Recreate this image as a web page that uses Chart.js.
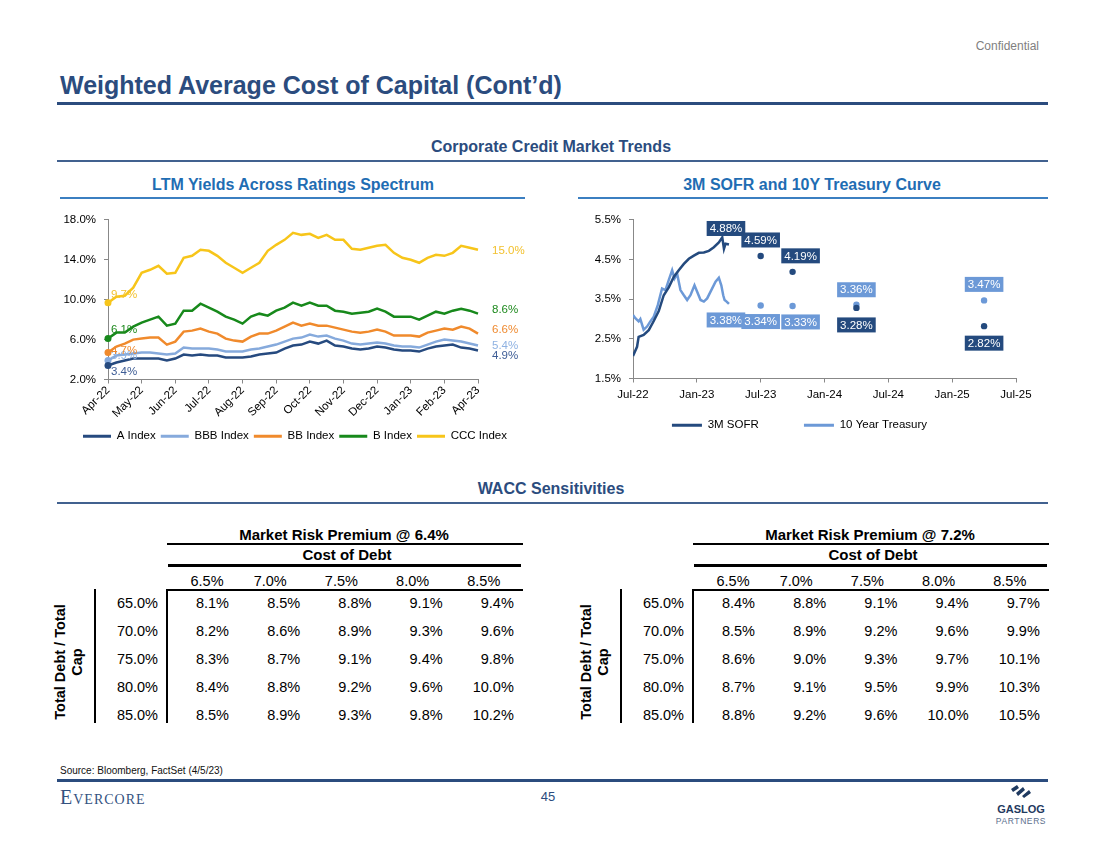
<!DOCTYPE html>
<html>
<head>
<meta charset="utf-8">
<script src="https://cdn.jsdelivr.net/npm/chart.js@4.4.0/dist/chart.umd.min.js"></script>
<style>
  body { margin:0; width:1100px; height:849px; position:relative; background:#fff; overflow:hidden;
         font-family:"Liberation Sans", Arial, sans-serif; }
  .t { position:absolute; white-space:nowrap; }
  .rule { position:absolute; }
  canvas { position:absolute; }
</style>
</head>
<body>
<canvas id="ltm" width="490" height="247" style="left:50px;top:205px"></canvas>
<canvas id="curve" width="475" height="236" style="left:575px;top:205px"></canvas>
<script>
// ---- LTM yields (left chart) ----
var ltmMonths = ['Apr-22','May-22','Jun-22','Jul-22','Aug-22','Sep-22','Oct-22','Nov-22','Dec-22','Jan-23','Feb-23','Apr-23'];
var ltmNames = ['A Index','BBB Index','BB Index','B Index','CCC Index'];
var ltmA   = [3.4,3.7,3.9,4.1,4.1,4.1,4.1,3.9,4.1,4.5,4.4,4.5,4.4,4.4,4.2,4.2,4.2,4.3,4.5,4.6,4.7,5.1,5.4,5.5,5.8,5.6,5.9,5.4,5.3,5.1,5.0,5.1,5.3,5.2,5.0,4.9,4.9,4.8,5.1,5.3,5.4,5.5,5.2,5.1,4.9];
var ltmBBB = [3.9,4.4,4.5,4.6,4.7,4.7,4.6,4.5,4.6,5.2,5.1,5.1,5.1,5.0,4.8,4.8,4.8,5.0,5.1,5.3,5.5,5.8,6.1,6.2,6.5,6.3,6.4,6.1,5.9,5.6,5.5,5.6,5.7,5.6,5.4,5.3,5.3,5.2,5.5,5.8,6.0,5.9,5.8,5.6,5.4];
var ltmBB  = [4.7,5.3,5.6,6.0,6.1,6.2,6.2,5.5,5.8,6.8,6.9,7.1,6.8,6.6,6.1,5.9,5.8,6.3,6.6,6.6,6.9,7.3,7.7,7.4,7.6,7.4,7.4,7.2,7.0,6.8,6.7,6.8,7.0,6.8,6.4,6.4,6.4,6.3,6.7,6.9,7.1,7.0,7.3,7.1,6.6];
var ltmB   = [6.1,6.7,6.7,7.3,7.7,8.0,8.3,7.4,7.6,8.9,8.9,9.6,9.2,8.8,8.3,8.0,7.6,8.3,8.6,8.4,8.9,9.2,9.7,9.4,9.7,9.4,9.4,8.9,8.8,8.6,8.7,8.8,9.1,8.8,8.3,8.3,8.3,8.0,8.4,8.8,8.6,8.9,9.1,8.9,8.6];
var ltmCCC = [9.7,10.3,10.4,11.2,12.7,13.0,13.4,12.6,12.7,14.2,14.4,15.0,14.9,14.4,13.7,13.2,12.7,13.2,13.7,14.9,15.5,16.0,16.7,16.5,16.6,16.2,16.5,16.0,16.0,15.1,15.0,15.2,15.4,15.5,14.7,14.2,14.0,13.7,14.2,14.5,14.4,14.7,15.4,15.2,15.0];
var ltmYTicks = [2, 18, 4]; // min, max, step

// ---- 3M SOFR and 10Y Treasury (right chart), x = months after Jul-22 ----
var curveTickLabels = ['Jul-22','Jan-23','Jul-23','Jan-24','Jul-24','Jan-25','Jul-25'];
var sofrMonths  = [0,0.38,0.53,1.0,1.48,1.95,2.42,2.89,3.36,3.83,4.30,4.78,5.25,5.72,6.19,6.66,7.13,7.60,8.07,8.39,8.55,8.70,9.02];
var sofrValues  = [2.07,2.30,2.55,2.60,2.72,2.95,3.20,3.60,3.80,4.06,4.23,4.39,4.52,4.60,4.67,4.68,4.72,4.81,4.93,5.06,4.77,4.90,4.88];
var treasMonths = [0,0.22,0.53,0.69,1.0,1.32,1.63,1.95,2.33,2.73,3.05,3.36,3.68,3.90,4.15,4.46,4.78,5.09,5.40,5.78,6.03,6.35,6.66,6.97,7.29,7.76,8.07,8.30,8.48,8.61,8.80,9.02];
var treasValues = [3.10,3.02,2.94,3.00,2.73,2.81,2.94,3.06,3.35,3.77,3.73,3.98,4.23,4.02,4.14,3.73,3.60,3.48,3.60,3.85,3.69,3.48,3.44,3.52,3.69,3.94,4.04,3.85,3.60,3.48,3.44,3.38];
var fwdMonths   = [12,15,21,33];
var sofrFwd     = [4.59,4.19,3.28,2.82];
var treasFwd    = [3.34,3.33,3.36,3.47];

// ---- WACC sensitivity tables ----
var costOfDebt = [6.5,7.0,7.5,8.0,8.5];
var debtToCap  = [65.0,70.0,75.0,80.0,85.0];
var wacc64 = [[8.1,8.5,8.8,9.1,9.4],[8.2,8.6,8.9,9.3,9.6],[8.3,8.7,9.1,9.4,9.8],[8.4,8.8,9.2,9.6,10.0],[8.5,8.9,9.3,9.8,10.2]];
var wacc72 = [[8.4,8.8,9.1,9.4,9.7],[8.5,8.9,9.2,9.6,9.9],[8.6,9.0,9.3,9.7,10.1],[8.7,9.1,9.5,9.9,10.3],[8.8,9.2,9.6,10.0,10.5]];

var FONT = '"Liberation Sans", Arial, sans-serif';
var NAVY = '#2b4c7e';

// simple text helper, y is the visual centre
function txt(x, y, s, css, align) {
  var d = document.createElement('div');
  d.className = 't';
  d.textContent = s;
  var st = 'top:' + (y - 20) + 'px;height:40px;line-height:40px;';
  align = align || 'left';
  if (align === 'center') st += 'left:' + (x - 300) + 'px;width:600px;text-align:center;';
  else if (align === 'right') st += 'left:' + (x - 600) + 'px;width:600px;text-align:right;';
  else st += 'left:' + x + 'px;';
  d.setAttribute('style', st + (css || ''));
  document.body.appendChild(d);
  return d;
}
function rule(x1, x2, y, h, color) {
  var d = document.createElement('div');
  d.className = 'rule';
  d.setAttribute('style', 'left:' + x1 + 'px;width:' + (x2 - x1) + 'px;top:' + (y - h / 2) + 'px;height:' + h + 'px;background:' + color);
  document.body.appendChild(d);
}
function vrule(x, y1, y2, w, color) {
  var d = document.createElement('div');
  d.className = 'rule';
  d.setAttribute('style', 'left:' + (x - w / 2) + 'px;width:' + w + 'px;top:' + y1 + 'px;height:' + (y2 - y1) + 'px;background:' + color);
  document.body.appendChild(d);
}

// ---- page furniture ----
txt(1039, 46, 'Confidential', 'font-size:12px;color:#7f7f7f;', 'right');
txt(60, 85, 'Weighted Average Cost of Capital (Cont\u2019d)', 'font-size:25px;font-weight:bold;color:' + NAVY + ';');
rule(57, 1048, 103.5, 3, NAVY);
txt(551, 147, 'Corporate Credit Market Trends', 'font-size:16px;font-weight:bold;color:' + NAVY + ';', 'center');
rule(57, 1048, 161, 1.5, '#41618f');
txt(293, 185, 'LTM Yields Across Ratings Spectrum', 'font-size:16px;font-weight:bold;color:#1f6db3;', 'center');
rule(60, 525, 198, 1.5, '#3b7fc1');
txt(812, 185, '3M SOFR and 10Y Treasury Curve', 'font-size:16px;font-weight:bold;color:#1f6db3;', 'center');
rule(578, 1048, 198, 1.5, '#3b7fc1');
txt(551, 489, 'WACC Sensitivities', 'font-size:16px;font-weight:bold;color:' + NAVY + ';', 'center');
rule(57, 1048, 503, 1.5, '#41618f');
txt(60, 771, 'Source: Bloomberg, FactSet (4/5/23)', 'font-size:10px;color:#111;');
rule(57, 1048, 780, 3, NAVY);
txt(60, 797, 'Evercore', 'font-family:"Liberation Serif",serif;font-variant:small-caps;font-size:20px;letter-spacing:1px;color:#34527f;');
txt(548, 797, '45', 'font-size:13px;color:' + NAVY + ';', 'center');
txt(1021, 809, 'GASLOG', 'font-size:11px;font-weight:bold;color:#1f3a60;', 'center');
txt(1021, 821, 'PARTNERS', 'font-size:8.5px;letter-spacing:0.6px;color:#5a6e8c;', 'center');
(function () {
  var s = document.createElementNS('http://www.w3.org/2000/svg', 'svg');
  s.setAttribute('width', '24'); s.setAttribute('height', '16');
  s.style.position = 'absolute'; s.style.left = '1009px'; s.style.top = '783px';
  s.innerHTML = '<path d="M2 6 L8 2 L10 5 L4 9 Z M7 10 L14 4 L16 7 L9 13 Z M13 13 L20 7 L22 10 L15 15 Z" fill="#1f3a60"/>';
  document.body.appendChild(s);
})();

// ---- tables ----
function buildTable(base, title, grid) {
  txt(344 + base, 535, title, 'font-size:15px;font-weight:bold;color:#000;', 'center');
  rule(167 + base, 523 + base, 544, 2, '#000');
  txt(347 + base, 555, 'Cost of Debt', 'font-size:15px;font-weight:bold;color:#000;', 'center');
  rule(168 + base, 521 + base, 565, 3, '#000');
  costOfDebt.forEach(function (c, j) {
    txt(229 + 71.2 * j - 30 + (j === 0 ? 8 : 0) + base, 581, c.toFixed(1) + '%', 'font-size:14.5px;color:#000;', 'center');
  });
  rule(167 + base, 523 + base, 590, 2, '#000');
  vrule(167 + base, 589, 723, 2, '#000');
  vrule(95 + base, 589, 723, 2, '#000');
  debtToCap.forEach(function (r, i) {
    var y = 603 + 28 * i;
    txt(158 + base, y, r.toFixed(1) + '%', 'font-size:14.5px;color:#000;', 'right');
    grid[i].forEach(function (v, j) {
      txt(229 + 71.2 * j + base, y, v.toFixed(1) + '%', 'font-size:14.5px;color:#000;', 'right');
    });
  });
  var lab = document.createElement('div');
  lab.className = 't';
  lab.innerHTML = 'Total Debt / Total<br>Cap';
  lab.setAttribute('style', 'width:140px;left:' + base + 'px;top:644px;height:36px;line-height:17px;text-align:center;' +
    'font-size:14.5px;font-weight:bold;color:#000;transform:rotate(-90deg);');
  document.body.appendChild(lab);
}
buildTable(0, 'Market Risk Premium @ 6.4%', wacc64);
buildTable(526, 'Market Risk Premium @ 7.2%', wacc72);

// ---- charts ----
Chart.defaults.font.family = FONT;
Chart.defaults.color = '#000';

function lineLegendItems(chart) {
  return Chart.defaults.plugins.legend.labels.generateLabels(chart).map(function (it) {
    var ds = chart.data.datasets[it.datasetIndex];
    it.lineWidth = 3;
    it.strokeStyle = ds.borderColor;
    it.fillStyle = ds.borderColor;
    return it;
  });
}

var ltmColors = ['#264a7f', '#86aadc', '#f08a2c', '#17891b', '#f7c51a'];
var ltmLabelColors = ['#3d5c95', '#8fb2e2', '#ef8a30', '#1e8a1e', '#f2c12e'];
var ltmStartDy = [6, -5, -2, -9, -8];
var ltmEndDy = [5, 0, -4, -4, 1];

var ltmCategories = [];
for (var i = 0; i < ltmA.length; i++) ltmCategories.push(i % 4 === 0 ? ltmMonths[i / 4] : '');

var ltmLabelsPlugin = {
  id: 'ltmLabels',
  afterDatasetsDraw: function (chart) {
    var ctx = chart.ctx;
    chart.data.datasets.forEach(function (ds, di) {
      var pts = chart.getDatasetMeta(di).data;
      var first = pts[0], last = pts[pts.length - 1];
      ctx.save();
      ctx.font = '11.5px ' + FONT;
      ctx.fillStyle = ltmLabelColors[di];
      ctx.textBaseline = 'middle';
      ctx.textAlign = 'left';
      ctx.fillText(ds.data[0].toFixed(1) + '%', first.x + 3, first.y + ltmStartDy[di]);
      ctx.fillText(ds.data[ds.data.length - 1].toFixed(1) + '%', last.x + 14, last.y + ltmEndDy[di]);
      ctx.restore();
    });
  }
};

new Chart(document.getElementById('ltm'), {
  type: 'line',
  data: {
    labels: ltmCategories,
    datasets: [ltmA, ltmBBB, ltmBB, ltmB, ltmCCC].map(function (d, k) {
      return {
        label: ltmNames[k], data: d, borderColor: ltmColors[k], backgroundColor: ltmColors[k],
        borderWidth: 2.5, fill: false, tension: 0,
        pointRadius: function (c) { return c.dataIndex === 0 ? 3.5 : 0; },
        pointBorderWidth: 0, pointStyle: 'circle'
      };
    })
  },
  options: {
    responsive: false, animation: false,
    layout: { padding: { top: 12, right: 0, left: 0, bottom: 0 } },
    scales: {
      x: {
        grid: { display: true, drawOnChartArea: false, tickLength: 4, color: '#888' },
        border: { color: '#888' },
        ticks: {
          autoSkip: false, minRotation: 45, maxRotation: 45, padding: 0,
          font: { size: 11.5 },
          callback: function (v, idx) { return idx % 4 === 0 ? ltmMonths[idx / 4] : null; }
        },
        // room on the right for the end-of-line value labels
        afterFit: function (s) { s.height = 46; s.paddingRight = 62; }
      },
      y: {
        min: ltmYTicks[0], max: ltmYTicks[1],
        grid: { display: true, drawOnChartArea: false, tickLength: 4, color: '#888' },
        border: { color: '#888' },
        ticks: { stepSize: ltmYTicks[2], padding: 8, font: { size: 11.5 },
                 callback: function (v) { return v.toFixed(1) + '%'; } },
        afterFit: function (s) { s.width = 58; }
      }
    },
    plugins: {
      legend: {
        position: 'bottom',
        labels: { usePointStyle: true, pointStyle: 'line', pointStyleWidth: 28, padding: 5,
                  font: { size: 11.5 }, color: '#000', generateLabels: lineLegendItems }
      },
      tooltip: { enabled: false }
    }
  },
  plugins: [ltmLabelsPlugin]
});

var SOFR_C = '#244a7e', TREAS_C = '#6c99d7';
// where each value box sits relative to its point: [dataset, point index, dx, dy]
var boxPlacement = [
  [0, sofrValues.length - 1, -3, -16],
  [1, treasValues.length - 1, -3, 16],
  [2, 0, 0, -16], [2, 1, 8, -16], [2, 2, 0, 17], [2, 3, 0, 17],
  [3, 0, 0, 16], [3, 1, 8, 16], [3, 2, 0, -15], [3, 3, 0, -16]
];
var boxPlugin = {
  id: 'boxLabels',
  afterDatasetsDraw: function (chart) {
    var ctx = chart.ctx;
    boxPlacement.forEach(function (p) {
      var ds = chart.data.datasets[p[0]];
      var pt = chart.getDatasetMeta(p[0]).data[p[1]];
      var s = ds.data[p[1]].y.toFixed(2) + '%';
      ctx.save();
      ctx.font = '11.5px ' + FONT;
      var w = ctx.measureText(s).width + 6, h = 15;
      var cx = pt.x + p[2], cy = pt.y + p[3];
      ctx.fillStyle = ds.borderColor;
      ctx.fillRect(cx - w / 2, cy - h / 2, w, h);
      ctx.fillStyle = '#fff';
      ctx.textAlign = 'center'; ctx.textBaseline = 'middle';
      ctx.fillText(s, cx, cy + 0.5);
      ctx.restore();
    });
  }
};
function pts(xs, ys) { return xs.map(function (x, i) { return { x: x, y: ys[i] }; }); }

new Chart(document.getElementById('curve'), {
  type: 'line',
  data: {
    datasets: [
      { label: '3M SOFR', data: pts(sofrMonths, sofrValues), borderColor: SOFR_C, backgroundColor: SOFR_C,
        borderWidth: 2.5, pointRadius: 0, tension: 0 },
      { label: '10 Year Treasury', data: pts(treasMonths, treasValues), borderColor: TREAS_C, backgroundColor: TREAS_C,
        borderWidth: 2.5, pointRadius: 0, tension: 0 },
      { label: 'SOFR fwd', data: pts(fwdMonths, sofrFwd), borderColor: SOFR_C, backgroundColor: SOFR_C,
        showLine: false, pointRadius: 3.2, pointBorderWidth: 0 },
      { label: 'Treasury fwd', data: pts(fwdMonths, treasFwd), borderColor: TREAS_C, backgroundColor: TREAS_C,
        showLine: false, pointRadius: 3.2, pointBorderWidth: 0 }
    ]
  },
  options: {
    responsive: false, animation: false,
    layout: { padding: { top: 12, right: 26, left: 0, bottom: 0 } },
    scales: {
      x: {
        type: 'linear', min: 0, max: 36,
        grid: { display: true, drawOnChartArea: false, tickLength: 4, color: '#888' },
        border: { color: '#888' },
        ticks: { stepSize: 6, padding: 5, font: { size: 11.5 }, maxRotation: 0,
                 callback: function (v) { return curveTickLabels[v / 6]; } },
        afterFit: function (s) { s.height = 31; s.paddingRight = 34; }
      },
      y: {
        min: 1.5, max: 5.5,
        grid: { display: true, drawOnChartArea: false, tickLength: 4, color: '#888' },
        border: { color: '#888' },
        ticks: { stepSize: 1, padding: 8, font: { size: 11.5 },
                 callback: function (v) { return v.toFixed(1) + '%'; } },
        afterFit: function (s) { s.width = 58; }
      }
    },
    plugins: {
      legend: {
        position: 'bottom',
        labels: { usePointStyle: true, pointStyle: 'line', pointStyleWidth: 30, padding: 10,
                  font: { size: 11.5 }, color: '#000',
                  filter: function (item) { return item.datasetIndex < 2; },
                  generateLabels: function (chart) {
                    return lineLegendItems(chart).map(function (it) {
                      if (it.datasetIndex === 0) it.text += '\u00a0\u00a0\u00a0\u00a0\u00a0\u00a0\u00a0\u00a0\u00a0\u00a0\u00a0';
                      return it;
                    });
                  } }
      },
      tooltip: { enabled: false }
    }
  },
  plugins: [boxPlugin]
});
</script>
</body>
</html>
